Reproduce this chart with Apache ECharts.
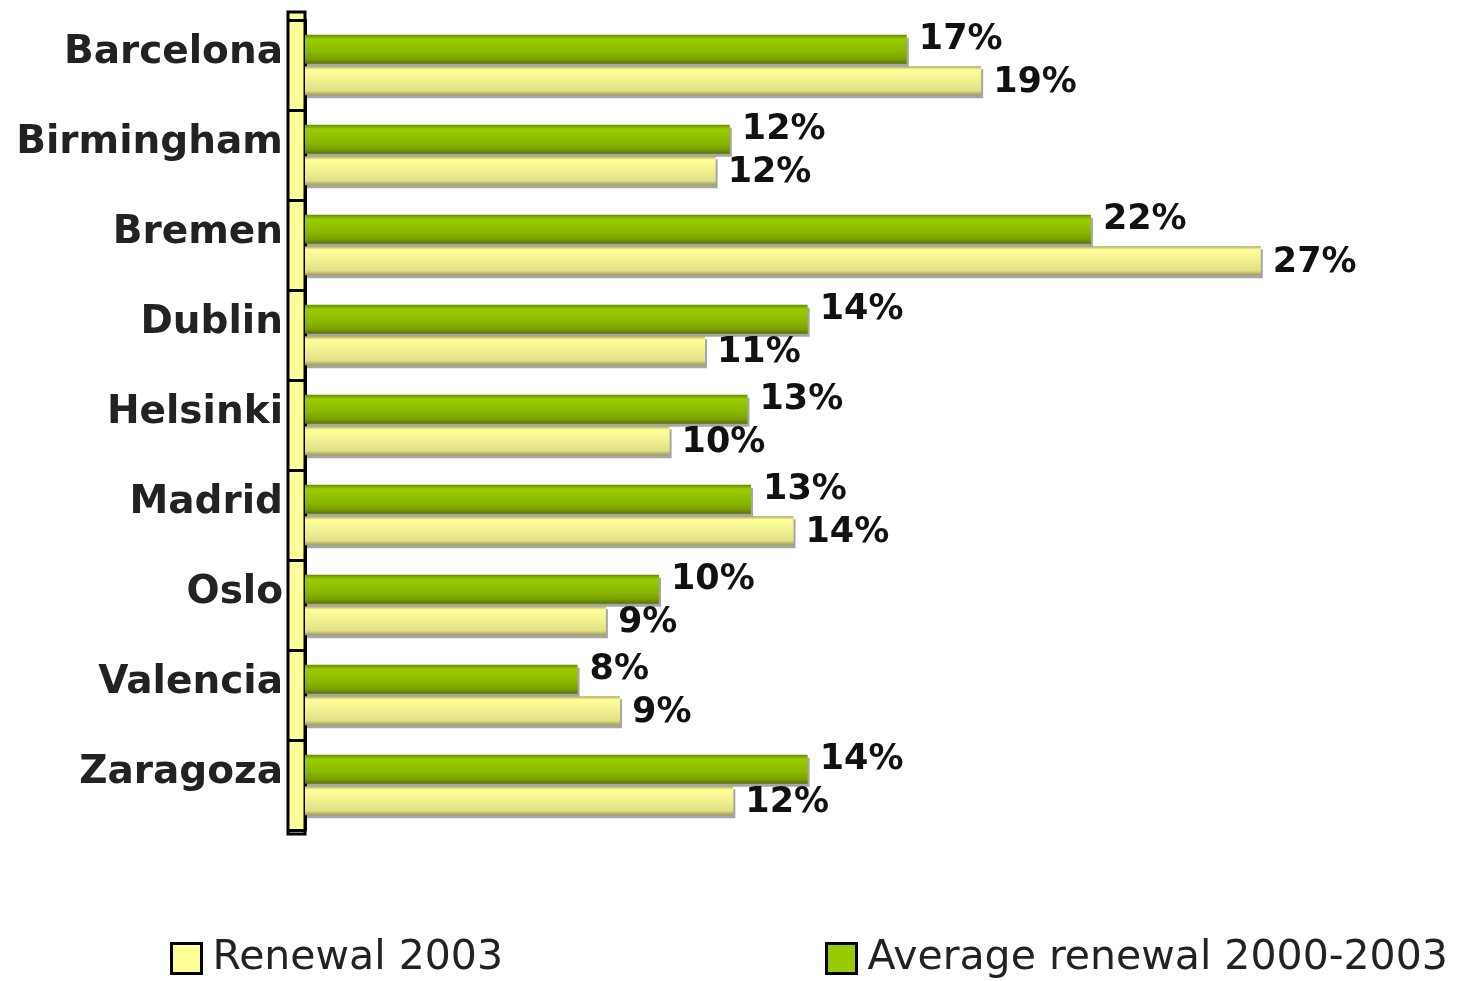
<!DOCTYPE html>
<html><head><meta charset="utf-8">
<script src="https://cdn.jsdelivr.net/npm/echarts@6/dist/echarts.min.js"></script>
<style>html,body{margin:0;padding:0;background:#fff}#c{width:1461px;height:981px}</style>
</head><body><div id="c"></div>
<script>
const categories = ['Barcelona','Birmingham','Bremen','Dublin','Helsinki','Madrid','Oslo','Valencia','Zaragoza'];
const averageRenewal = [17.0, 12.0, 22.2, 14.2, 12.5, 12.6, 10.0, 7.7, 14.2];
const renewal2003 = [19.1, 11.6, 27.0, 11.3, 10.3, 13.8, 8.5, 8.9, 12.1];
const seriesNames = ['Renewal 2003', 'Average renewal 2000-2003'];

const chart = echarts.init(document.getElementById('c'));
const FONT = '"DejaVu Sans", Verdana, sans-serif';
const greenGrad = new echarts.graphic.LinearGradient(0,0,0,1,[
  {offset:0,color:'#6b8a00'},{offset:0.15,color:'#99cc00'},{offset:0.6,color:'#8ab800'},{offset:0.85,color:'#7a9e00'},{offset:1,color:'#55700a'}]);
const yellowGrad = new echarts.graphic.LinearGradient(0,0,0,1,[
  {offset:0,color:'#a8a45c'},{offset:0.12,color:'#ffff99'},{offset:0.55,color:'#eeee90'},{offset:0.85,color:'#e0e085'},{offset:1,color:'#a09a58'}]);
const labelFmt = p => Math.round(p.value) + '%';

chart.setOption({
  animation:false,
  grid:{left:305, right:94, top:20, bottom:151},
  xAxis:{type:'value', min:0, max:30, show:false},
  yAxis:{type:'category', data:categories, inverse:true,
    axisLine:{show:true, lineStyle:{color:'#000', width:3}},
    axisTick:{show:true, length:18, lineStyle:{color:'#000', width:3}},
    axisLabel:{fontFamily:FONT, fontSize:39, fontWeight:'bold', color:'#222', margin:22,
      verticalAlign:'bottom', lineHeight:24}
  },
  legend:{left:165, top:933, itemGap:322, itemWidth:30, itemHeight:30,
    textStyle:{fontFamily:FONT, fontSize:41, color:'#222', padding:[0,0,0,6]},
    data:[
      {name:seriesNames[0], icon:'rect', itemStyle:{color:'#ffff99', borderColor:'#000', borderWidth:3}},
      {name:seriesNames[1], icon:'rect', itemStyle:{color:'#99cc00', borderColor:'#000', borderWidth:3}}
    ]},
  graphic:[{type:'rect', z:-1, shape:{x:288, y:12, width:17, height:822},
    style:{fill:'#ffff99', stroke:'#000', lineWidth:3}}],
  series:[
    {name:seriesNames[1], type:'bar', data:averageRenewal, barWidth:29, barGap:'8%',
      itemStyle:{color:greenGrad, shadowColor:'rgba(0,0,0,0.35)', shadowOffsetY:3, shadowOffsetX:2},
      label:{show:true, position:'right', distance:12, offset:[0,-9], formatter:labelFmt,
        fontFamily:FONT, fontSize:35, fontWeight:'bold', color:'#111'}},
    {name:seriesNames[0], type:'bar', data:renewal2003, barWidth:29,
      itemStyle:{color:yellowGrad, shadowColor:'rgba(0,0,0,0.35)', shadowOffsetY:3, shadowOffsetX:2},
      label:{show:true, position:'right', distance:12, offset:[0,2], formatter:labelFmt,
        fontFamily:FONT, fontSize:35, fontWeight:'bold', color:'#111'}}
  ]
});
</script></body></html>
